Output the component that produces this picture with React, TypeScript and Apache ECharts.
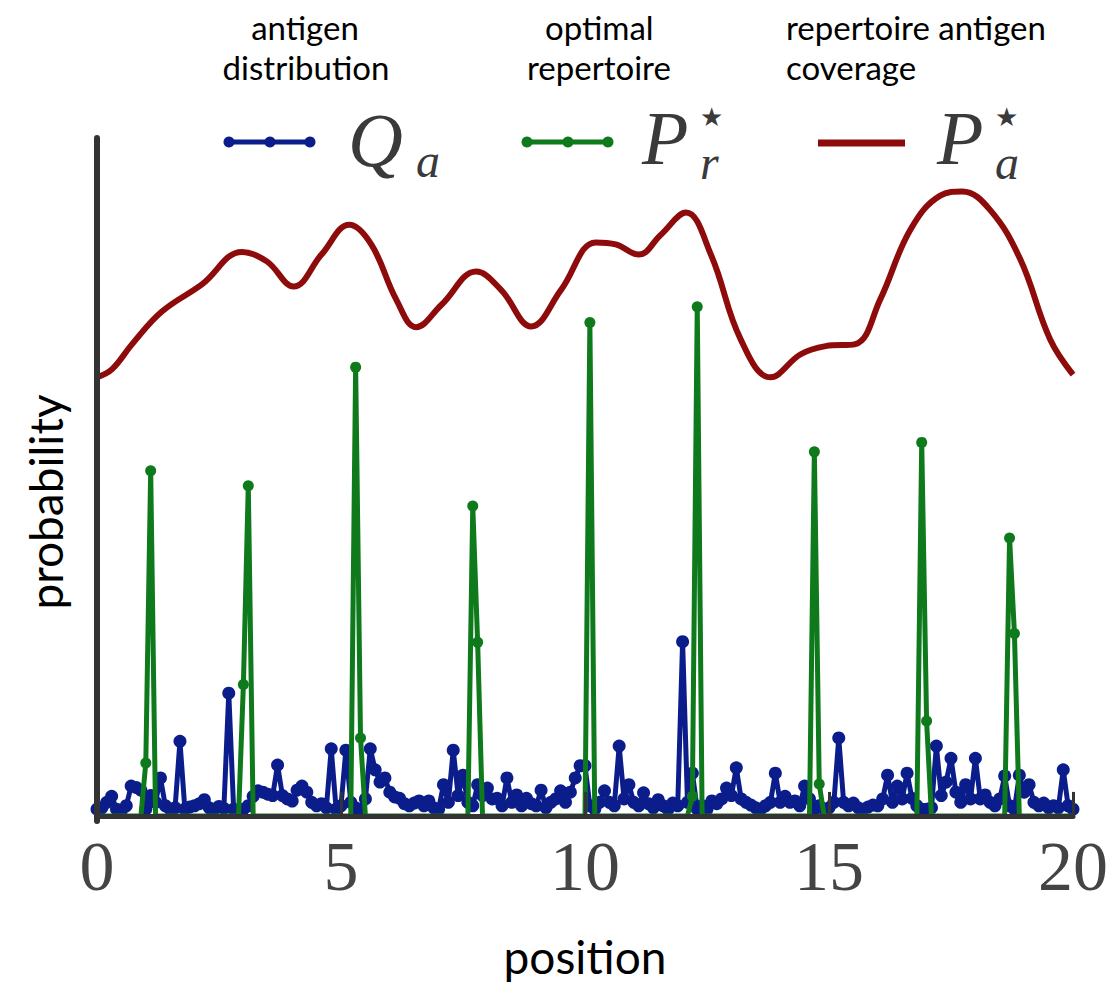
import React, { useEffect, useRef } from "react";
import * as echarts from "echarts";

// x grid of positions (step 0.1, 0..20)
const positions: number[] = Array.from({ length: 201 }, (_, i) => i / 10);

// antigen distribution Q_a (one value per position)
const qValues: number[] = [
  1.0, 1.2, 2.0, 2.9, 1.0, 0.8, 1.5, 4.4, 4.2, 3.8,
  1.0, 3.0, 2.0, 5.6, 1.5, 1.0, 1.2, 11.0, 1.0, 1.3,
  1.5, 1.8, 2.4, 1.2, 1.0, 1.4, 1.1, 18.1, 1.0, 0.8,
  1.0, 1.5, 2.9, 3.7, 3.5, 3.2, 3.0, 7.5, 3.0, 2.5,
  2.2, 3.8, 4.4, 3.5, 2.0, 1.5, 1.8, 1.2, 9.9, 1.0,
  1.5, 9.7, 2.0, 1.2, 1.0, 2.5, 9.9, 6.8, 5.0, 5.6,
  3.5, 2.8, 2.6, 1.8, 1.5, 1.9, 2.2, 1.5, 2.2, 1.2,
  1.0, 4.6, 2.0, 9.7, 3.0, 6.0, 2.0, 1.5, 4.6, 3.0,
  4.1, 2.5, 2.6, 1.5, 5.6, 2.0, 3.1, 1.5, 2.6, 1.8,
  1.5, 3.8, 1.2, 2.0, 2.5, 3.7, 2.0, 3.5, 5.6, 7.4,
  7.4, 1.5, 1.0, 2.0, 3.7, 2.0, 1.5, 10.3, 2.5, 4.6,
  2.0, 1.5, 3.4, 1.8, 1.2, 2.4, 1.5, 1.0, 1.9, 1.5,
  25.7, 2.0, 6.3, 1.0, 1.5, 1.0, 2.2, 1.8, 2.5, 4.1,
  3.0, 7.1, 2.5, 2.0, 1.6, 1.2, 1.0, 1.5, 2.0, 6.3,
  2.0, 2.9, 2.0, 2.2, 1.5, 4.4, 2.5, 1.0, 1.5, 1.0,
  1.2, 2.0, 11.5, 2.0, 1.5, 1.9, 1.2, 1.0, 1.3, 1.6,
  1.5, 2.5, 6.0, 2.0, 4.4, 2.5, 6.3, 2.6, 1.5, 1.0,
  1.0, 1.2, 10.3, 3.0, 5.0, 8.5, 3.5, 2.0, 4.6, 2.5,
  8.5, 2.5, 3.1, 2.0, 1.5, 2.5, 5.9, 1.5, 1.0, 6.0,
  3.5, 4.6, 2.0, 1.5, 1.9, 1.2, 1.5, 1.2, 6.8, 1.5,
  1.0,
];

// optimal repertoire P_r* : non-zero positions and values (zero elsewhere)
const rPositions: number[] = [1.0, 1.1, 3.0, 3.1, 5.3, 5.4, 7.7, 7.8, 10.1, 12.2, 12.3, 14.7, 14.8, 16.9, 17.0, 18.7, 18.8];
const rValues: number[] = [7.8, 50.9, 19.4, 48.7, 66.2, 11.5, 45.7, 25.6, 72.8, 2.9, 75.1, 53.7, 4.7, 55.1, 14.0, 41.0, 26.9];

// repertoire antigen coverage P_a* (smooth curve)
const aPositions: number[] = [0, 0.31, 0.72, 1.33, 2.15, 2.97, 3.48, 4.03, 4.6, 5.17, 5.62, 6.13, 6.54, 7.06, 7.77, 8.28, 8.9, 9.51, 10.22, 10.63, 11.1, 11.55, 12.07, 12.58, 13.19, 13.8, 14.42, 14.93, 15.54, 16.05, 16.67, 17.28, 17.73, 18.3, 18.92, 19.53, 20];
const aValues: number[] = [64.7, 65.9, 69.6, 74.4, 78.4, 83.2, 81.8, 78.1, 82.8, 87.2, 84.3, 76.2, 72.1, 75.4, 80.3, 77.6, 72.2, 77.6, 84.6, 84.3, 82.8, 85.7, 89.0, 82.8, 70.3, 64.7, 68.1, 69.3, 69.6, 76.2, 86.5, 91.5, 92.1, 89.4, 82.1, 70.3, 65.1];

const xTicks: number[] = [0, 5, 10, 15, 20];

const BLUE = "#0b1d8a";
const GREEN = "#0e7a1c";
const RED = "#8e0b0b";
const AXIS = "#333333";
const MATH = "#3a3a3a";

export default function App() {
  const ref = useRef<HTMLDivElement>(null);
  useEffect(() => {
    if (!ref.current) return;
    const chart = echarts.init(ref.current, null, { renderer: "svg" });
    const qData = positions.map((x, i) => [x, qValues[i]]);
    const rData = positions.map((x) => {
      const k = rPositions.findIndex((p) => Math.abs(p - x) < 1e-6);
      return [x, k >= 0 ? rValues[k] : 0];
    });
    const aData = aPositions.map((x, i) => [x, aValues[i]]);
    const mathFont = '"Liberation Serif", serif';
    const sans = "Lato, sans-serif";
    const legendItem = (x: number, y: number, color: string, markers: boolean) => {
      const els: any[] = [
        {
          type: "line",
          shape: { x1: x, y1: y, x2: x + 87, y2: y },
          style: { stroke: color, lineWidth: markers ? 5 : 7 },
        },
      ];
      if (markers) {
        [3, 44, 84].forEach((dx) =>
          els.push({ type: "circle", shape: { cx: x + dx, cy: y, r: 5.5 }, style: { fill: color } })
        );
      }
      return els;
    };
    const note = (text: string, x: number, y: number, align: string) => ({
      type: "text",
      x,
      y,
      style: { text, font: `33px ${sans}`, fill: "#000", align, verticalAlign: "middle" },
    });
    chart.setOption({
      animation: false,
      grid: { left: 97, right: 36, top: 138, bottom: 163 },
      xAxis: {
        type: "value",
        min: 0,
        max: 20,
        interval: 5,
        z: 6,
        name: "position",
        nameLocation: "middle",
        nameGap: 112,
        nameTextStyle: { fontFamily: sans, fontSize: 46, color: "#000" },
        axisLine: { lineStyle: { color: AXIS, width: 5 } },
        axisTick: { inside: true, length: 24, lineStyle: { color: AXIS, width: 3 } },
        axisLabel: {
          margin: 10,
          fontFamily: mathFont,
          fontSize: 70,
          color: "#444",
          formatter: (v: number) => (xTicks.includes(v) ? String(v) : ""),
        },
        splitLine: { show: false },
      },
      yAxis: {
        type: "value",
        min: -0.75,
        max: 100,
        z: 6,
        axisLine: { show: true, lineStyle: { color: AXIS, width: 6 } },
        axisTick: { show: false },
        axisLabel: { show: false },
        splitLine: { show: false },
      },
      series: [
        {
          name: "Q_a",
          type: "line",
          data: qData,
          color: BLUE,
          lineStyle: { width: 5, color: BLUE },
          symbol: "circle",
          symbolSize: 13,
          showSymbol: true,
          itemStyle: { color: BLUE },
          z: 2,
        },
        {
          name: "P_r*",
          type: "line",
          data: rData,
          color: GREEN,
          lineStyle: { width: 5, color: GREEN },
          symbol: "circle",
          symbolSize: (v: number[]) => (v[1] > 0 ? 11 : 0),
          showSymbol: true,
          itemStyle: { color: GREEN },
          z: 3,
        },
        {
          name: "P_a*",
          type: "line",
          data: aData,
          smooth: 0.4,
          color: RED,
          lineStyle: { width: 6, color: RED },
          showSymbol: false,
          z: 4,
        },
      ],
      graphic: [
        // annotations above the legend
        note("antigen", 305, 27, "center"),
        note("distribution", 306, 67, "center"),
        note("optimal", 545, 27, "left"),
        note("repertoire", 527, 67, "left"),
        note("repertoire antigen", 786, 27, "left"),
        note("coverage", 786, 67, "left"),
        // legend
        ...legendItem(226, 142, BLUE, true),
        { type: "text", x: 348, y: 140, style: { text: "Q", font: `italic 76px ${mathFont}`, fill: MATH, verticalAlign: "middle" } },
        { type: "text", x: 416, y: 160, style: { text: "a", font: `italic 48px ${mathFont}`, fill: MATH, verticalAlign: "middle" } },
        ...legendItem(524, 142, GREEN, true),
        { type: "text", x: 642, y: 138, style: { text: "P", font: `italic 76px ${mathFont}`, fill: MATH, verticalAlign: "middle" } },
        { type: "text", x: 700, y: 117, style: { text: "★", font: `26px "DejaVu Sans", sans-serif`, fill: MATH, verticalAlign: "middle" } },
        { type: "text", x: 700, y: 162, style: { text: "r", font: `italic 48px ${mathFont}`, fill: MATH, verticalAlign: "middle" } },
        ...legendItem(818, 143, RED, false),
        { type: "text", x: 937, y: 138, style: { text: "P", font: `italic 76px ${mathFont}`, fill: MATH, verticalAlign: "middle" } },
        { type: "text", x: 995, y: 117, style: { text: "★", font: `26px "DejaVu Sans", sans-serif`, fill: MATH, verticalAlign: "middle" } },
        { type: "text", x: 995, y: 162, style: { text: "a", font: `italic 48px ${mathFont}`, fill: MATH, verticalAlign: "middle" } },
        // y axis title
        {
          type: "text",
          x: 45,
          y: 502,
          rotation: Math.PI / 2,
          style: { text: "probability", font: `46px ${sans}`, fill: "#000", align: "center", verticalAlign: "middle" },
        },
      ],
    });
    return () => chart.dispose();
  }, []);
  return <div ref={ref} style={{ position: "fixed", left: 0, top: 0, width: 1111, height: 984, background: "#fff" }} />;
}
